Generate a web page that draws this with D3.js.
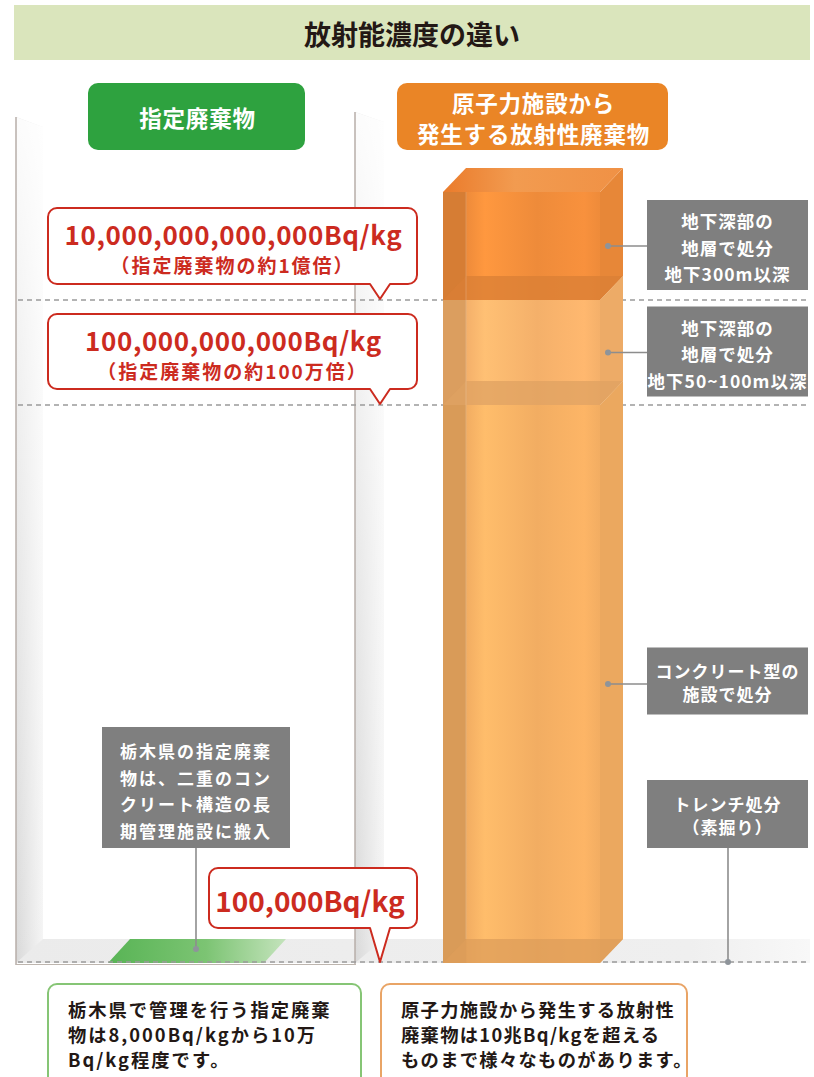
<!DOCTYPE html>
<html><head><meta charset="utf-8">
<script src="https://cdn.jsdelivr.net/npm/d3@7"></script>
<style>
body{margin:0;background:#fff}
svg{display:block}
text{font-family:"Noto Sans CJK JP","Noto Sans",sans-serif}
</style>
</head><body>
<svg id="c" width="814" height="1077"></svg>
<script>
// ---------------- data ----------------
const title = "放射能濃度の違い";
const categories = ["指定廃棄物", "原子力施設から\n発生する放射性廃棄物"];
const categoryColors = ["#2ea23f", "#ea8526"];
// anchor values of the (non-proportional) log scale, Bq/kg
const scaleValues = [1e5, 1e11, 1e13, 1e15];
// radioactive waste column segments
const segHigh = [1e15, 1e13, 1e11];
const segLow  = [1e13, 1e11, 1e5];
const segLabels = [
  "地下深部の\n地層で処分\n地下300m以深",
  "地下深部の\n地層で処分\n地下50~100m以深",
  "コンクリート型の\n施設で処分"
];
const segColors = ["#ee8b3a", "#f4b06a", "#f2ad62"];
// dashed reference levels
const refLevels = [1e13, 1e11, 1e5];
// callouts
const calloutValues = [1e13, 1e11, 1e5];
const calloutMain = ["10,000,000,000,000Bq/kg", "100,000,000,000Bq/kg", "100,000Bq/kg"];
const calloutSub  = ["（指定廃棄物の約1億倍）", "（指定廃棄物の約100万倍）", ""];
// trench disposal
const trenchLabel = "トレンチ処分\n（素掘り）";
const trenchValue = 1e5;
// designated waste
const designatedNote = "栃木県の指定廃棄\n物は、二重のコン\nクリート構造の長\n期管理施設に搬入";
const designatedValue = 1e5;
// bottom notes
const notes = [
  "栃木県で管理を行う指定廃棄\n物は8,000Bq/kgから10万\nBq/kg程度です。",
  "原子力施設から発生する放射性\n廃棄物は10兆Bq/kgを超える\nものまで様々なものがあります。"
];

// ---------------- layout ----------------
const svg = d3.select("#c");
const defs = svg.append("defs");
const y = d3.scaleLog().domain(scaleValues).range([963, 405, 300, 192]);
const baseY = y(scaleValues[0]);
const bx0 = 443, bx1 = 600, ddx = 23, ddy = -24;
const red = "#cc2b1f";

// multi-line text in one <text> element (lines as tspans, centred on cy)
function multi(sel, x, cy, lines, lh) {
  const t = sel.attr("x", x).attr("y", cy - (lines.length - 1) / 2 * lh).attr("dominant-baseline", "central");
  lines.forEach((s, j) => t.append("tspan").attr("x", x).attr("dy", j === 0 ? 0 : lh).text(s));
  return t;
}

// title band
svg.append("rect").attr("x", 14).attr("y", 5).attr("width", 796).attr("height", 55).attr("fill", "#dae5bc");
svg.append("text").attr("x", 412).attr("y", 33).attr("text-anchor", "middle").attr("dominant-baseline", "central")
  .attr("font-size", 27).attr("font-weight", 700).attr("fill", "#231815").text(title);

// walls gradients
const gWall = defs.append("linearGradient").attr("id", "gWall").attr("x1", 0).attr("x2", 1).attr("y1", 0).attr("y2", 0);
gWall.append("stop").attr("offset", 0).attr("stop-color", "#d9d9d9");
gWall.append("stop").attr("offset", 1).attr("stop-color", "#f5f5f5");
const gWallV = defs.append("linearGradient").attr("id", "gWallV").attr("x1", 0).attr("x2", 0).attr("y1", 0).attr("y2", 1);
gWallV.append("stop").attr("offset", 0).attr("stop-color", "#fff").attr("stop-opacity", 0.92);
gWallV.append("stop").attr("offset", 0.5).attr("stop-color", "#fff").attr("stop-opacity", 0.4);
gWallV.append("stop").attr("offset", 1).attr("stop-color", "#fff").attr("stop-opacity", 0);
const gFloor = defs.append("linearGradient").attr("id", "gFloor").attr("x1", 0).attr("x2", 1).attr("y1", 0).attr("y2", 0);
gFloor.append("stop").attr("offset", 0).attr("stop-color", "#ebebeb");
gFloor.append("stop").attr("offset", 0.85).attr("stop-color", "#efefef");
gFloor.append("stop").attr("offset", 1).attr("stop-color", "#f8f8f8");

// floor
svg.append("rect").attr("x", 16).attr("y", baseY + ddy).attr("width", 794).attr("height", -ddy).attr("fill", "url(#gFloor)");
// left wall panel & middle wall panel
[[16, 43, 117], [355, 384, 112]].forEach(([a, b, top]) => {
  const pts = [[a, top], [b, top + 10], [b, baseY + ddy], [a, baseY]];
  svg.append("polygon").attr("points", pts.join(" ")).attr("fill", "url(#gWall)");
  svg.append("polygon").attr("points", pts.join(" ")).attr("fill", "url(#gWallV)");
  svg.append("line").attr("x1", a).attr("x2", a).attr("y1", top).attr("y2", baseY + 2)
    .attr("stroke", "#b7aea8").attr("stroke-width", 1.5);
});

// green floor patch (designated waste)
const gGreen = defs.append("linearGradient").attr("id", "gGreen").attr("x1", 0).attr("x2", 1).attr("y1", 0).attr("y2", 0);
gGreen.append("stop").attr("offset", 0).attr("stop-color", "#58b455");
gGreen.append("stop").attr("offset", 0.55).attr("stop-color", "#7cc473");
gGreen.append("stop").attr("offset", 1).attr("stop-color", "#c4e3bc");
svg.append("polygon")
  .attr("points", [[108, y(designatedValue)], [130, y(designatedValue) + ddy], [286, y(designatedValue) + ddy], [264, y(designatedValue)]].join(" "))
  .attr("fill", "url(#gGreen)");

// dashed reference lines
svg.selectAll("line.ref").data(refLevels).join("line").attr("class", "ref")
  .attr("x1", 18).attr("x2", 810)
  .attr("y1", d => y(d) - (d === scaleValues[0] ? 1 : 0)).attr("y2", d => y(d) - (d === scaleValues[0] ? 1 : 0))
  .attr("stroke", "#9a9a9a").attr("stroke-width", 1.3).attr("stroke-dasharray", "5,4");
svg.append("line").attr("x1", 16).attr("x2", 356).attr("y1", baseY + 1.5).attr("y2", baseY + 1.5)
  .attr("stroke", "#bdb5ae").attr("stroke-width", 1);

// category labels
const catBoxes = [[88, 305], [397, 668]];
categories.forEach((c, i) => {
  const [a, b] = catBoxes[i];
  svg.append("rect").attr("x", a).attr("y", 83).attr("width", b - a).attr("height", 67).attr("rx", 10)
    .attr("fill", categoryColors[i]);
  multi(svg.append("text"), (a + b) / 2 + 1, 117, c.split("\n"), 31)
    .attr("text-anchor", "middle").attr("font-size", 22.5).attr("letter-spacing", 0.8)
    .attr("font-weight", 700).attr("fill", "#fff");
});

// ---------------- orange column (3D translucent box) ----------------
const boxG = svg.append("g");
segHigh.forEach((hi, i) => {
  const base = d3.color(segColors[i]);
  const yt = y(hi), yb = y(segLow[i]);
  const gid = "gSeg" + i;
  const g = defs.append("linearGradient").attr("id", gid).attr("x1", 0).attr("x2", 1).attr("y1", 0).attr("y2", 0);
  const dark = d3.rgb(base).darker(0.3), light = d3.rgb(base).brighter(0.25);
  const f = ddx / (bx1 - bx0);
  g.append("stop").attr("offset", 0).attr("stop-color", dark);
  g.append("stop").attr("offset", f).attr("stop-color", dark);
  g.append("stop").attr("offset", f + 0.005).attr("stop-color", base);
  g.append("stop").attr("offset", f + 0.12).attr("stop-color", light);
  g.append("stop").attr("offset", 0.6).attr("stop-color", base);
  g.append("stop").attr("offset", 0.9).attr("stop-color", d3.rgb(base).brighter(0.12));
  g.append("stop").attr("offset", 1).attr("stop-color", base);
  boxG.append("rect").attr("x", bx0).attr("y", yt).attr("width", bx1 - bx0).attr("height", yb - yt).attr("fill", `url(#${gid})`);
  // right side face
  boxG.append("polygon").attr("points", [[bx1, yt], [bx1 + ddx, yt + ddy], [bx1 + ddx, yb + ddy], [bx1, yb]].join(" "))
    .attr("fill", d3.rgb(base).darker(0.08));
  // inner floor plane at bottom of segment
  boxG.append("polygon").attr("points", [[bx0, yb], [bx0 + ddx, yb + ddy], [bx1 + ddx, yb + ddy], [bx1, yb]].join(" "))
    .attr("fill", d3.rgb(base).darker(0.25)).attr("opacity", 0.75);
});
// top face
const yTop = y(segHigh[0]);
const gTopF = defs.append("linearGradient").attr("id", "gTopF").attr("x1", 0).attr("x2", 1).attr("y1", 0).attr("y2", 0);
gTopF.append("stop").attr("offset", 0).attr("stop-color", "#ea7b2b");
gTopF.append("stop").attr("offset", 0.4).attr("stop-color", "#f29b50");
gTopF.append("stop").attr("offset", 1).attr("stop-color", "#f09145");
boxG.append("polygon").attr("points", [[bx0, yTop], [bx0 + ddx, yTop + ddy], [bx1 + ddx, yTop + ddy], [bx1, yTop]].join(" "))
  .attr("fill", "url(#gTopF)");
boxG.append("line").attr("x1", bx0 + ddx).attr("x2", bx0 + ddx).attr("y1", yTop).attr("y2", baseY + ddy)
  .attr("stroke", "#fff").attr("stroke-opacity", 0.18).attr("stroke-width", 1);

// grey label boxes
const greyBoxX0 = 647, greyBoxX1 = 808, greyFill = "#7f7f7f";
function greyBox(cx, cy, w, h, lines, lh, fs, ls, textDy) {
  svg.append("rect").attr("x", cx - w / 2).attr("y", cy - h / 2).attr("width", w).attr("height", h).attr("fill", greyFill);
  multi(svg.append("text"), cx, cy + textDy, lines, lh)
    .attr("text-anchor", "middle").attr("font-size", fs).attr("font-weight", 700).attr("letter-spacing", ls).attr("fill", "#fff");
  return [cy - h / 2, cy + h / 2];
}
segLabels.forEach((lab, i) => {
  const ym = y(Math.sqrt(segHigh[i] * segLow[i]));
  const lines = lab.split("\n");
  if (lines.length === 3) greyBox((greyBoxX0 + greyBoxX1) / 2, ym - 1, greyBoxX1 - greyBoxX0, 90, lines, 26.5, 17.5, 1, 1.5);
  else greyBox((greyBoxX0 + greyBoxX1) / 2, ym - 3, greyBoxX1 - greyBoxX0, 67, lines, 23, 17, 1, 0.5);
  svg.append("line").attr("x1", 608).attr("x2", greyBoxX0).attr("y1", ym).attr("y2", ym).attr("stroke", "#8d8d8d").attr("stroke-width", 1.6);
  svg.append("circle").attr("cx", 608).attr("cy", ym).attr("r", 3).attr("fill", "#8e949a");
});
// trench box
{
  const lines = trenchLabel.split("\n");
  const [t, b] = greyBox((greyBoxX0 + greyBoxX1) / 2, 814, greyBoxX1 - greyBoxX0, 68, lines, 23, 17, 1, 0);
  svg.append("line").attr("x1", 728).attr("x2", 728).attr("y1", b).attr("y2", y(trenchValue) - 1).attr("stroke", "#8d8d8d").attr("stroke-width", 1.6);
  svg.append("circle").attr("cx", 728).attr("cy", y(trenchValue) - 1).attr("r", 3).attr("fill", "#8e949a");
}
// designated waste box
{
  const lines = designatedNote.split("\n");
  const [t, b] = greyBox(196, 787.5, 188, 121, lines, 26.8, 17, 2, 2.5);
  svg.append("line").attr("x1", 196).attr("x2", 196).attr("y1", b).attr("y2", y(designatedValue) - 14).attr("stroke", "#8d8d8d").attr("stroke-width", 1.6);
  svg.append("circle").attr("cx", 196).attr("cy", y(designatedValue) - 14).attr("r", 3).attr("fill", "#8e949a");
}

// ---------------- callouts ----------------
const calloutBox = [[48, 417, 76, 15], [48, 417, 75, 15], [209, 417, 60, 34]]; // x0, x1, height, tail
const tailX = 380;
calloutValues.forEach((v, i) => {
  const [a, b, h, tail] = calloutBox[i];
  const tip = y(v) - 1;
  const bot = tip - tail, top = bot - h, r = 9;
  const p = d3.path();
  p.moveTo(a + r, top);
  p.lineTo(b - r, top); p.arcTo(b, top, b, top + r, r);
  p.lineTo(b, bot - r); p.arcTo(b, bot, b - r, bot, r);
  p.lineTo(tailX + 10, bot); p.lineTo(tailX, tip); p.lineTo(tailX - 10, bot);
  p.lineTo(a + r, bot); p.arcTo(a, bot, a, bot - r, r);
  p.lineTo(a, top + r); p.arcTo(a, top, a + r, top, r);
  p.closePath();
  svg.append("path").attr("d", p.toString()).attr("fill", "#fff").attr("stroke", red).attr("stroke-width", 2).attr("stroke-linejoin", "round");
  const cx = (a + b) / 2;
  if (calloutSub[i]) {
    const t = svg.append("text").attr("x", cx).attr("y", top + 25).attr("text-anchor", "middle")
      .attr("dominant-baseline", "central").attr("font-weight", 700).attr("fill", red);
    t.append("tspan").attr("x", cx + 1).attr("font-size", 26).attr("letter-spacing", 0.6).text(calloutMain[i]);
    t.append("tspan").attr("x", cx).attr("dy", 31).attr("font-size", 19).attr("letter-spacing", 2).text(calloutSub[i]);
  } else {
    svg.append("text").attr("x", cx - 3).attr("y", top + h / 2 + 2).attr("text-anchor", "middle").attr("dominant-baseline", "central")
      .attr("font-size", 28).attr("font-weight", 700).attr("fill", red).text(calloutMain[i]);
  }
});

// ---------------- bottom notes ----------------
const noteBoxes = [[48, 361, "#86c575"], [381, 687, "#e9a466"]];
notes.forEach((n, i) => {
  const [a, b, col] = noteBoxes[i];
  svg.append("rect").attr("x", a).attr("y", 984).attr("width", b - a).attr("height", 110).attr("rx", 9)
    .attr("fill", "#fff").attr("stroke", col).attr("stroke-width", 2);
  const lines = n.split("\n");
  multi(svg.append("text"), a + 20, 1034, lines, 25)
    .attr("font-size", 18.3).attr("font-weight", 700).attr("letter-spacing", i === 0 ? 2 : 1.3).attr("fill", "#231815");
});
</script>
</body></html>
